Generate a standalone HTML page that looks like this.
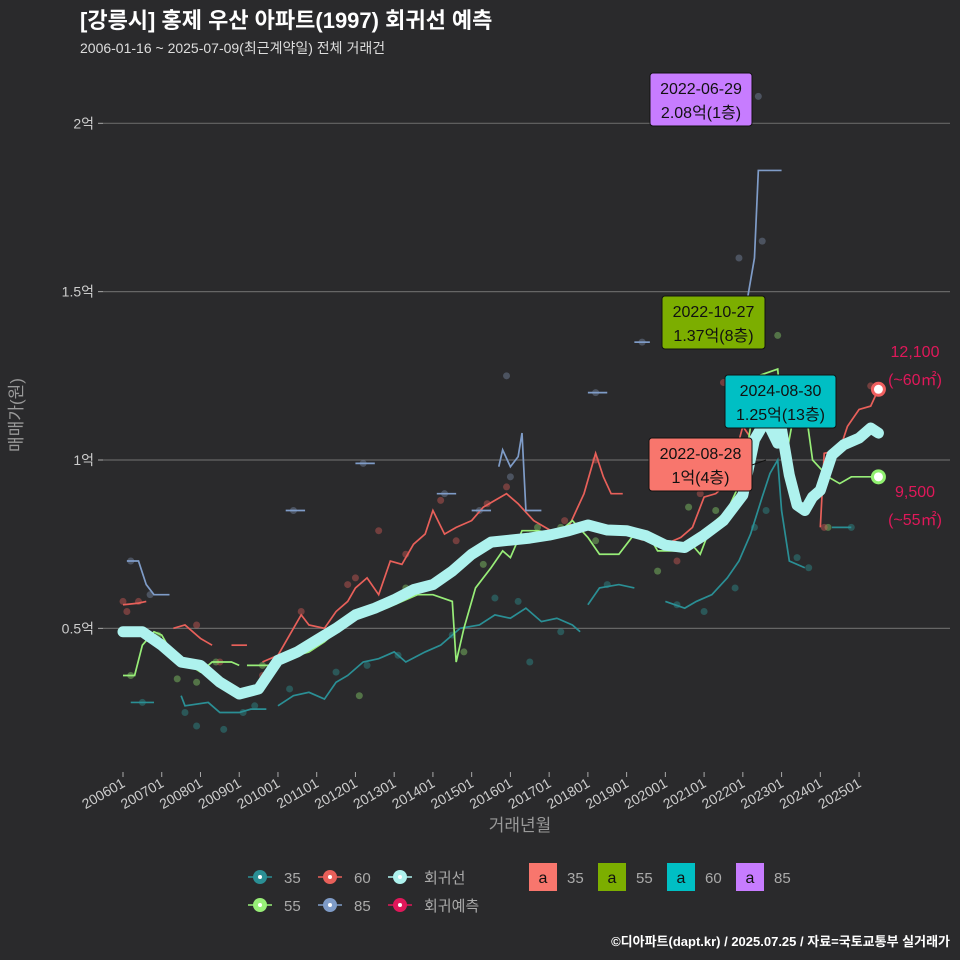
<!DOCTYPE html>
<html><head><meta charset="utf-8"><style>
body{margin:0;background:#2a2a2c;}
svg{display:block;font-family:"Liberation Sans","Noto Sans CJK KR",sans-serif;}
</style></head><body>
<svg id="c" width="960" height="960" viewBox="0 0 960 960">
<rect width="960" height="960" fill="#2a2a2c"/>
<text x="80" y="28" font-size="22" font-weight="bold" fill="#fff">[강릉시] 홍제 우산 아파트(1997) 회귀선 예측</text>
<text x="80" y="53" font-size="14" fill="#ddd">2006-01-16 ~ 2025-07-09(최근계약일) 전체 거래건</text>
<g id="grid"></g>
<g id="marks"></g>
<g id="xaxis"></g>
<text x="520" y="831" font-size="17" fill="#999" text-anchor="middle">거래년월</text>
<text transform="translate(22,415) rotate(-90)" font-size="17" fill="#999" text-anchor="middle">매매가(원)</text>
<g id="labels"></g>
<g id="legend"></g>
<text x="950" y="946" font-size="13" font-weight="bold" fill="#fff" text-anchor="end">©디아파트(dapt.kr) / 2025.07.25 / 자료=국토교통부 실거래가</text>
</svg>
<script>
const yTicks=[5000,10000,15000,20000];
const yTickLabels=["0.5억","1억","1.5억","2억"];
const xTicks=[2006,2007,2008,2009,2010,2011,2012,2013,2014,2015,2016,2017,2018,2019,2020,2021,2022,2023,2024,2025];
const xTickLabels=["200601","200701","200801","200901","201001","201101","201201","201301","201401","201501","201601","201701","201801","201901","202001","202101","202201","202301","202401","202501"];
const s35=[[[2006.2,2800],[2006.8,2800]],[[2007.5,3000],[2007.6,2700],[2008.2,2800],[2008.5,2500],[2009.0,2500],[2009.3,2600],[2009.7,2600]],[[2010.0,2700],[2010.4,3000],[2010.8,3100],[2011.2,2900],[2011.5,3400],[2011.8,3600],[2012.2,4000],[2012.6,4100],[2013.0,4300],[2013.3,4000],[2013.8,4300],[2014.2,4500],[2014.7,5000],[2015.2,5100],[2015.6,5400],[2016.0,5300],[2016.4,5600],[2016.8,5200],[2017.2,5300],[2017.6,5100],[2017.8,4900]],[[2018.0,5700],[2018.3,6200],[2018.8,6300],[2019.2,6200]],[[2020.0,5800],[2020.5,5600],[2020.8,5800],[2021.2,6000],[2021.6,6500],[2021.9,7000],[2022.2,7800],[2022.5,8900],[2022.7,9600],[2022.9,10000],[2023.0,8500],[2023.2,7000],[2023.6,6800]],[[2024.3,8000],[2024.8,8000]]];
const s55=[[[2006.0,3600],[2006.3,3600],[2006.5,4500],[2006.8,4900],[2007.0,4800],[2007.3,4200],[2007.6,4000],[2008.0,3700],[2008.3,4000],[2008.8,4000],[2009.0,3900]],[[2009.2,3900],[2009.8,3900],[2010.2,4100],[2010.8,4300],[2011.2,4600],[2011.6,5000],[2012.0,5300],[2012.4,5500],[2012.8,5600],[2013.2,5800],[2013.6,6000],[2014.0,6000],[2014.5,5800],[2014.6,4000],[2014.8,5000],[2015.1,6200],[2015.5,6800],[2015.8,7300],[2016.0,7100],[2016.3,7900],[2016.7,7900],[2017.2,7800],[2017.6,8200],[2018.0,7700],[2018.3,7200],[2018.8,7200],[2019.2,7800],[2019.6,7700],[2019.8,7300],[2020.3,7300],[2020.6,7600],[2020.9,7200],[2021.2,8100],[2021.6,8500],[2022.0,9500],[2022.4,12500],[2022.9,12700],[2023.1,10000],[2023.5,12500],[2023.8,10000],[2024.2,9500],[2024.5,9300],[2024.8,9500],[2025.5,9500]]];
const s60=[[[2006.0,5700],[2006.4,5750],[2006.6,5800]],[[2007.3,5000],[2007.6,5100],[2008.0,4700],[2008.3,4500]],[[2008.8,4500],[2009.2,4500]],[[2009.6,4000],[2010.0,4200],[2010.3,4800],[2010.6,5400],[2010.8,5100],[2011.2,5000],[2011.5,5500],[2011.8,5800],[2012.0,6200],[2012.3,6500],[2012.6,6000],[2012.9,7000],[2013.2,6900],[2013.5,7500],[2013.8,7800],[2014.0,8500],[2014.3,7800],[2014.6,8000],[2014.8,8100],[2015.0,8200],[2015.3,8600],[2015.6,8800],[2015.9,9000],[2016.2,8700],[2016.6,8200],[2016.9,8000],[2017.2,7800],[2017.5,8000],[2017.9,9000],[2018.2,10200],[2018.4,9500],[2018.6,9000],[2018.9,9000]],[[2019.0,8000],[2019.5,7700],[2020.0,7500],[2020.4,7700],[2020.7,8000],[2021.0,8900],[2021.3,9000],[2021.6,9300],[2022.0,11000],[2022.3,10500]],[[2024.0,8000],[2024.1,10200],[2024.5,10300],[2024.7,11000],[2025.0,11500],[2025.3,11600],[2025.5,12100]]];
const s85=[[[2006.1,7000],[2006.4,7000],[2006.6,6300],[2006.8,6000],[2007.2,6000]],[[2010.2,8500],[2010.7,8500]],[[2012.0,9900],[2012.5,9900]],[[2014.1,9000],[2014.6,9000]],[[2015.0,8500],[2015.5,8500]],[[2015.7,9800],[2015.8,10300],[2016.0,9800],[2016.2,10100],[2016.3,10800],[2016.4,8500],[2016.8,8500]],[[2018.0,12000],[2018.5,12000]],[[2019.2,13500],[2019.6,13500]],[[2022.0,14000],[2022.3,16000],[2022.4,18600],[2023.0,18600]]];
const reg=[[2006.0,4900],[2006.5,4900],[2007.0,4500],[2007.5,4000],[2008.0,3900],[2008.5,3400],[2009.0,3050],[2009.5,3200],[2010.0,4050],[2010.5,4300],[2011.0,4650],[2011.5,5000],[2012.0,5400],[2012.5,5600],[2013.0,5850],[2013.5,6150],[2014.0,6300],[2014.5,6700],[2015.0,7200],[2015.5,7560],[2016.0,7620],[2016.5,7680],[2017.0,7770],[2017.5,7900],[2018.0,8070],[2018.5,7920],[2019.0,7900],[2019.5,7750],[2020.0,7470],[2020.5,7400],[2021.0,7770],[2021.5,8200],[2022.0,8960],[2022.3,10600],[2022.6,11200],[2022.9,10500],[2023.0,10900],[2023.2,9550],[2023.4,8660],[2023.6,8500],[2023.8,8900],[2024.0,9100],[2024.3,10150],[2024.6,10450],[2025.0,10650],[2025.3,10950],[2025.5,10800]];
const pts35=[[2006.5,2800],[2007.6,2500],[2007.9,2100],[2008.6,2000],[2009.1,2500],[2009.4,2700],[2010.3,3200],[2011.5,3700],[2012.3,3900],[2013.1,4200],[2014.5,4800],[2015.6,5900],[2016.2,5800],[2016.5,4000],[2017.3,4900],[2018.5,6300],[2020.3,5700],[2021.0,5500],[2021.8,6200],[2022.3,8000],[2022.6,8500],[2023.4,7100],[2023.7,6800],[2024.8,8000]];
const pts55=[[2006.2,3600],[2006.9,4800],[2007.4,3500],[2007.9,3400],[2008.4,4000],[2009.6,3900],[2010.6,4400],[2011.4,4900],[2012.1,3000],[2012.7,5700],[2013.3,6200],[2014.2,6400],[2014.8,4300],[2015.3,6900],[2016.1,7600],[2016.7,8000],[2017.3,8000],[2018.2,7600],[2019.1,7900],[2019.8,6700],[2020.6,8600],[2021.3,8500],[2022.9,13700],[2024.2,8000]];
const pts60=[[2006.0,5800],[2006.1,5500],[2006.4,5800],[2007.9,5100],[2008.5,4000],[2009.6,3600],[2010.6,5500],[2011.8,6300],[2012.0,6500],[2012.6,7900],[2013.3,7200],[2014.2,8800],[2014.6,7600],[2015.4,8700],[2015.9,9200],[2017.4,8200],[2018.2,10000],[2019.4,7700],[2020.3,7000],[2020.9,9000],[2021.5,12300],[2022.8,11500],[2024.1,8000],[2025.3,12200]];
const pts85=[[2006.2,7000],[2006.7,6000],[2010.4,8500],[2012.2,9900],[2014.3,9000],[2015.2,8500],[2015.9,12500],[2016.0,9500],[2018.2,12000],[2019.4,13500],[2021.9,16000],[2022.4,20800],[2022.5,16500]];
const predV=[12100,9500];
const predX=2025.5;

const ns="http://www.w3.org/2000/svg";
const X=t=>123+(t-2006)*38.74;
const Y=v=>460-(v-10000)*0.03367;
function mk(tag,attrs,parent){const e=document.createElementNS(ns,tag);for(const k in attrs)e.setAttribute(k,attrs[k]);parent.appendChild(e);return e;}
const grid=document.getElementById('grid'),marks=document.getElementById('marks'),xa=document.getElementById('xaxis'),lab=document.getElementById('labels'),leg=document.getElementById('legend');
yTicks.forEach((v,i)=>{
 const l=mk('line',{x1:103,x2:950,y1:Y(v),y2:Y(v),stroke:'#666','stroke-width':1.2},grid);
 
 
 const tk=mk('line',{x1:98,x2:103,y1:Y(v),y2:Y(v),stroke:'#aaa'},grid);
 
 
 const t=mk('text',{x:94,y:Y(v)+5,'font-size':14,fill:'#ccc','text-anchor':'end'},grid);
 t.textContent=yTickLabels[i];
 
 
});
xTicks.forEach((t,i)=>{
 const tk=mk('line',{x1:X(t),x2:X(t),y1:772,y2:777,stroke:'#aaa'},xa);
 
 
 const tx=mk('text',{transform:`translate(${X(t)+3},${786}) rotate(-30)`,'font-size':14,fill:'#ccc','text-anchor':'end'},xa);
 tx.textContent=xTickLabels[i];
 
 
});
function dots(arr,col,name){arr.forEach(p=>{const c=mk('circle',{cx:X(p[0]),cy:Y(p[1]),r:3.5,fill:col,opacity:0.4},marks);
 
 });}
function lines(segs,col,name){segs.forEach(s=>{const p=mk('polyline',{points:s.map(q=>X(q[0])+','+Y(q[1])).join(' '),fill:'none',stroke:col,'stroke-width':1.7},marks);
 
 });}
dots(pts35,'#2e9a9a','point-35');dots(pts55,'#90e070','point-55');dots(pts60,'#e0605a','point-60');dots(pts85,'#8090b0','point-85');
lines(s35,'#2a8f95','line-35');lines(s60,'#e8605a','line-60');lines(s55,'#98ee78','line-55');lines(s85,'#7f9cc8','line-85');
const r=mk('polyline',{points:reg.map(q=>X(q[0])+','+Y(q[1])).join(' '),fill:'none',stroke:'#aef2ee','stroke-width':11,'stroke-linejoin':'round','stroke-linecap':'round'},marks);


[['#f06060',predV[0],'prediction-60'],['#90f070',predV[1],'prediction-55']].forEach(d=>{
 const c=mk('circle',{cx:X(predX),cy:Y(d[1]),r:6,fill:'#fff',stroke:d[0],'stroke-width':3},marks);
 
 
});
function note(x,y,txt,name){const t=mk('text',{x:x,y:y,'font-size':16,fill:'#e0185a','text-anchor':'middle'},lab);t.textContent=txt;
 
 }
note(915,357,'12,100','pred-60-value');note(915,385,'(~60㎡)','pred-60-area');
note(915,497,'9,500','pred-55-value');note(915,525,'(~55㎡)','pred-55-area');
function box(x,y,w,col,l1,l2,name){const g=mk('g',{},lab);
 
 
 mk('rect',{x:x,y:y,width:w,height:53,rx:3,fill:col,stroke:'#111'},g);
 const a=mk('text',{x:x+w/2,y:y+21,'font-size':16,fill:'#111','text-anchor':'middle'},g);a.textContent=l1;
 const b=mk('text',{x:x+w/2,y:y+45,'font-size':16,fill:'#111','text-anchor':'middle'},g);b.textContent=l2;}
mk('line',{x1:752,y1:465,x2:766,y2:460,stroke:'#111'},lab);
box(650,73,102,'#c77cff','2022-06-29','2.08억(1층)','label-85-max');
box(662,296,103,'#7cae00','2022-10-27','1.37억(8층)','label-55-max');
box(725,375,111,'#00bfc4','2024-08-30','1.25억(13층)','label-60-max');
box(649,438,103,'#f8766d','2022-08-28','1억(4층)','label-35-max');
const legItems=[[260,877,'#2a8f95','35'],[330,877,'#e8605a','60'],[400,877,'#aef2ee','회귀선'],[260,905,'#98ee78','55'],[330,905,'#7f9cc8','85'],[400,905,'#e0185a','회귀예측']];
legItems.forEach(d=>{const g=mk('g',{},leg);
 
 
 mk('line',{x1:d[0]-12,x2:d[0]+12,y1:d[1],y2:d[1],stroke:d[2],'stroke-width':1.5},g);
 mk('circle',{cx:d[0],cy:d[1],r:7,fill:d[2]},g);
 mk('circle',{cx:d[0],cy:d[1],r:2,fill:'#fff'},g);
 const t=mk('text',{x:d[0]+24,y:d[1]+6,'font-size':15,fill:'#aaa'},g);t.textContent=d[3];});
const boxItems=[[529,'#f8766d','35'],[598,'#7cae00','55'],[667,'#00bfc4','60'],[736,'#c77cff','85']];
boxItems.forEach(d=>{const g=mk('g',{},leg);
 
 
 mk('rect',{x:d[0],y:863,width:28,height:28,fill:d[1]},g);
 const a=mk('text',{x:d[0]+14,y:883,'font-size':16,fill:'#111','text-anchor':'middle'},g);a.textContent='a';
 const t=mk('text',{x:d[0]+38,y:883,'font-size':15,fill:'#aaa'},g);t.textContent=d[2];});
</script>
</body></html>
